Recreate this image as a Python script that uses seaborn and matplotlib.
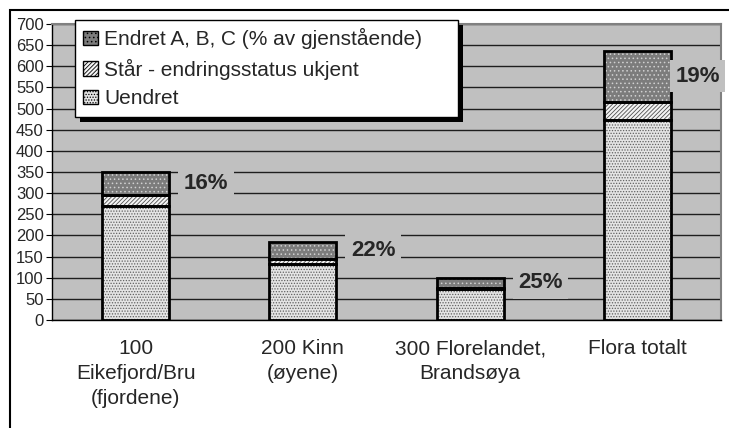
import pandas as pd
import matplotlib.pyplot as plt
import seaborn as sns
from matplotlib.patches import Patch, Rectangle

# data
categories = ["100\nEikefjord/Bru\n(fjordene)", "200 Kinn\n(øyene)",
              "300 Florelandet,\nBrandsøya", "Flora totalt"]
uendret = [270, 133, 73, 473]
staar = [25, 12, 2, 43]
endret = [55, 40, 25, 120]
pct_labels = ["16%", "22%", "25%", "19%"]
series_names = ["Uendret", "Står - endringsstatus ukjent",
                "Endret A, B, C (% av gjenstående)"]

sns.set_style("white")
plt.rcParams["font.family"] = ["Liberation Sans", "DejaVu Sans"]
plt.rcParams["hatch.linewidth"] = 0.6

df = pd.DataFrame({"omraade": categories,
                   series_names[0]: uendret,
                   series_names[1]: staar,
                   series_names[2]: endret})

# facecolor, hatch, hatch colour per series
styles = {
    series_names[0]: ("#e4e4e4", "......", "#606060"),
    series_names[1]: ("#f4f4f4", "////////", "#505050"),
    series_names[2]: ("#7c7c7c", "....", "#d0d0d0"),
}

fig = plt.figure(figsize=(7.29, 4.28), dpi=100)
ax = fig.add_axes([52 / 729, 108 / 428, 669 / 729, 296 / 428])
ax.set_facecolor("#c0c0c0")

bottom = [0] * len(categories)
for name in series_names:
    fc, hatch, hc = styles[name]
    sns.barplot(data=df, x="omraade", y=name, bottom=bottom, color=fc,
                edgecolor=hc, linewidth=0, hatch=hatch, width=0.4,
                saturation=1, errorbar=None, ax=ax, zorder=2)
    bottom = [b + v for b, v in zip(bottom, df[name])]

# black outlines on every segment
for p in list(ax.patches):
    ax.add_patch(Rectangle(p.get_xy(), p.get_width(), p.get_height(),
                           fill=False, ec="black", lw=2, zorder=3))

# percentage labels beside the top segment
for i, lbl in enumerate(pct_labels):
    y = uendret[i] + staar[i] + endret[i] / 2
    x = min(i + 0.42, 3.36)
    ax.text(x, y, lbl, ha="center", va="center", fontsize=16,
            fontweight="bold", zorder=4,
            bbox=dict(boxstyle="square,pad=0.25", fc="#c0c0c0", ec="none"))

ax.set_ylim(0, 700)
ax.set_xlim(-0.5, 3.5)
ax.set_yticks(range(0, 701, 50))
ax.yaxis.grid(True, color="#1e1e1e", lw=1)
ax.set_axisbelow(True)
ax.set_xlabel("")
ax.set_ylabel("")

ax.set_xticks([-0.5, 0.5, 1.5, 2.5, 3.5], minor=True)
ax.tick_params(axis="x", which="major", length=0, pad=14, labelsize=15)
ax.tick_params(axis="x", which="minor", length=5, color="black", width=1)
ax.tick_params(axis="y", length=4, color="black", labelsize=12, pad=2,
               left=True)
for lab in ax.get_xticklabels():
    lab.set_linespacing(1.4)

for s in ["top", "right"]:
    ax.spines[s].set_color("#808080")
    ax.spines[s].set_linewidth(1.5)
for s in ["left", "bottom"]:
    ax.spines[s].set_color("black")
    ax.spines[s].set_linewidth(1)

handles = [Patch(facecolor=styles[n][0], edgecolor="black", hatch=styles[n][1],
                 label=n) for n in reversed(series_names)]
leg = ax.legend(handles=handles, loc="upper left", mode="expand",
                bbox_to_anchor=(75 / 729, 1 - 117 / 428, 383 / 729, 97 / 428),
                bbox_transform=fig.transFigure, fontsize=15, frameon=True,
                fancybox=False, framealpha=1, edgecolor="black",
                borderpad=0.4, labelspacing=0.45, handlelength=0.7,
                handleheight=0.7, handletextpad=0.3, borderaxespad=0)
leg.get_frame().set_linewidth(1)
leg.set_zorder(6)

# black drop shadow behind the legend
fig.canvas.draw()
bb = leg.get_window_extent()
inv = ax.transAxes.inverted()
(x0, y0), (x1, y1) = inv.transform([(bb.x0 + 5, bb.y0 - 5), (bb.x1 + 5, bb.y1 - 5)])
ax.add_patch(Rectangle((x0, y0), x1 - x0, y1 - y0, transform=ax.transAxes,
                       fc="black", ec="none", clip_on=False, zorder=5.5))

# outer chart frame
fig.add_artist(Rectangle((10 / 729, -0.1), 1.2, 1 - 10 / 428 + 0.1,
                         transform=fig.transFigure, fill=False, ec="black",
                         lw=1.5))

fig.savefig("out.png", dpi=100)
